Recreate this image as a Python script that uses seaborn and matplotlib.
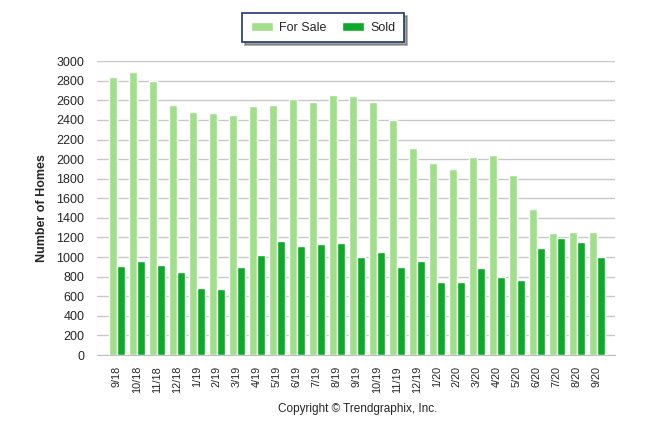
import pandas as pd
import seaborn as sns
import matplotlib.pyplot as plt

# Monthly data
months = ['9/18', '10/18', '11/18', '12/18', '1/19', '2/19', '3/19', '4/19', '5/19',
          '6/19', '7/19', '8/19', '9/19', '10/19', '11/19', '12/19', '1/20', '2/20',
          '3/20', '4/20', '5/20', '6/20', '7/20', '8/20', '9/20']
for_sale = [2840, 2890, 2800, 2550, 2480, 2470, 2450, 2540, 2550,
            2610, 2580, 2655, 2640, 2580, 2400, 2110, 1960, 1900,
            2020, 2040, 1840, 1490, 1245, 1255, 1255]
sold = [910, 960, 920, 850, 685, 675, 900, 1020, 1165,
        1110, 1133, 1143, 1000, 1050, 900, 959, 745, 745,
        888, 796, 765, 1092, 1194, 1153, 1000]

df = pd.DataFrame({'Month': months, 'For Sale': for_sale, 'Sold': sold})
df_long = df.melt(id_vars='Month', var_name='Status', value_name='Homes')

sns.set_style('white')
plt.rcParams['font.family'] = ['Liberation Sans', 'DejaVu Sans']

fig = plt.figure(figsize=(6.46, 4.34), dpi=100)
ax = fig.add_axes([0.150, 0.182, 0.802, 0.677])

sns.barplot(data=df_long, x='Month', y='Homes', hue='Status', order=months,
            palette={'For Sale': '#a0e08a', 'Sold': '#0caa28'},
            width=0.8, gap=0.1, saturation=1, ax=ax, legend=True)

ax.set_ylim(0, 3000)
ax.set_xlim(-1.0, 24.9)
ax.set_yticks(range(0, 3001, 200))
ax.yaxis.grid(True, color='#c8c8c8', linewidth=1)
ax.set_axisbelow(True)
for s in ['top', 'right', 'left']:
    ax.spines[s].set_visible(False)
ax.spines['bottom'].set_color('#c0c0c0')
ax.tick_params(axis='y', length=7, color='#c0c0c0', labelsize=9, pad=2)
ax.tick_params(axis='x', length=5, color='#c0c0c0', labelsize=7.8, pad=3, rotation=90)
ax.set_xticks(range(len(months)))
ax.set_xticklabels(months)
ax.set_xlabel('')
ax.set_ylabel('Number of Homes', fontsize=9, fontweight='bold', labelpad=6)

# legend on top, framed with a shadow
handles, labels = ax.get_legend_handles_labels()
ax.get_legend().remove()
leg = fig.legend(handles, labels, loc='upper center', bbox_to_anchor=(0.5, 0.985),
                 ncol=2, frameon=True, fancybox=False, shadow=True, fontsize=9,
                 handlelength=1.8, handleheight=0.75, handletextpad=0.5,
                 columnspacing=1.2, borderpad=0.7, edgecolor='#1f3a6a')
leg.get_frame().set_linewidth(1.2)

fig.text(0.553, 0.058, 'Copyright \u00a9 Trendgraphix, Inc.', ha='center', va='center', fontsize=8.5)

plt.savefig('out.png', dpi=100)
